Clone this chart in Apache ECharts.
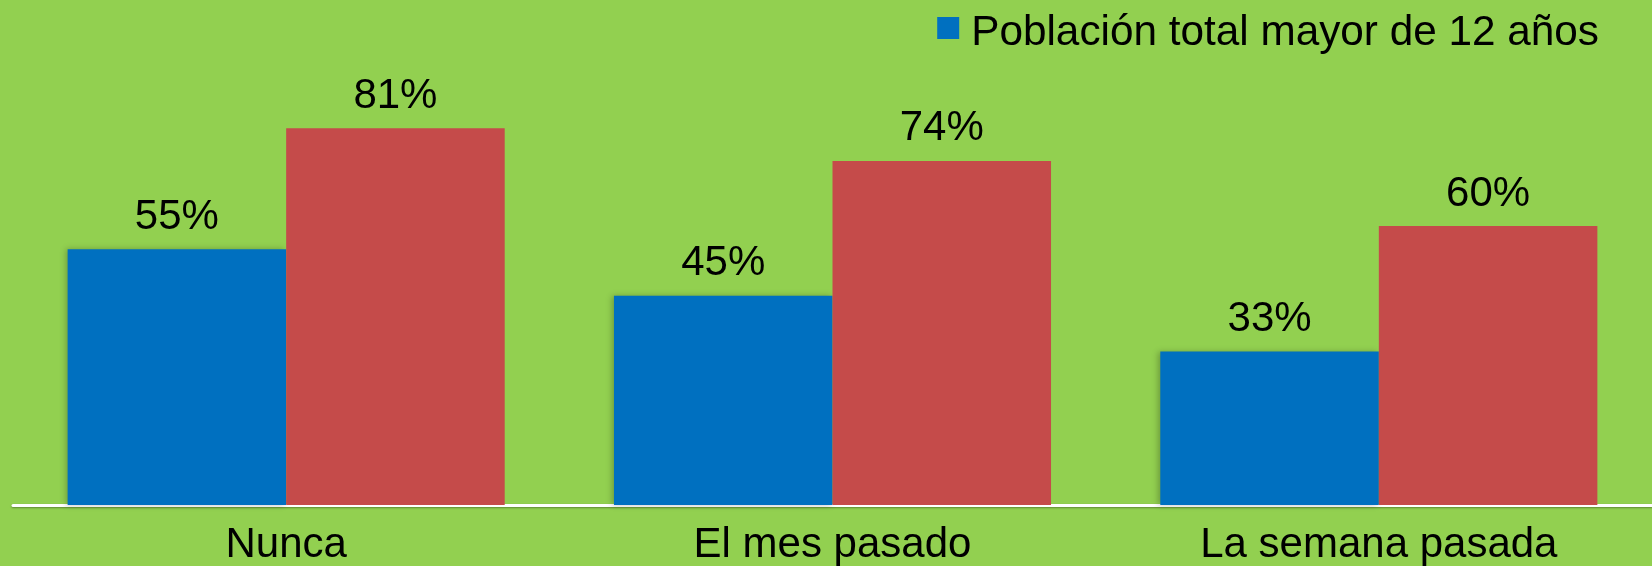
<!DOCTYPE html>
<html>
<head>
<meta charset="utf-8">
<script src="https://cdn.jsdelivr.net/npm/echarts@6/dist/echarts.min.js"></script>
<style>
html,body{margin:0;padding:0;background:#92D050;}
#chart{width:1652px;height:566px;}
</style>
</head>
<body>
<div id="chart"></div>
<script>
const categories = ['Nunca', 'El mes pasado', 'La semana pasada'];
const seriesNames = ['Población total mayor de 12 años', 'Otro grupo'];
const poblacionTotal = [55, 45, 33];
const otroGrupo = [81, 74, 60];

const FONT = '"Liberation Sans", Arial, sans-serif';
const chart = echarts.init(document.getElementById('chart'));
chart.setOption({
  backgroundColor: '#92D050',
  animation: false,
  legend: {
    data: [seriesNames[0]],
    right: 48,
    top: 7,
    itemWidth: 22,
    itemHeight: 22,
    itemGap: 10,
    icon: 'rect',
    formatter: '{t|{name}}',
    textStyle: {
      fontFamily: FONT, fontSize: 42.3, color: '#000',
      rich: { t: { fontFamily: FONT, fontSize: 42.3, color: '#000', padding: [10, 0, 0, 7] } }
    }
  },
  grid: { left: 13, width: 1648, top: 40, bottom: 61, containLabel: false },
  xAxis: {
    type: 'category',
    data: categories,
    axisLine: { show: true, lineStyle: { color: '#FFFFFF', width: 3, shadowColor: 'rgba(0,0,0,0.35)', shadowBlur: 2, shadowOffsetY: 1 } },
    axisTick: { show: false },
    axisLabel: { fontFamily: FONT, fontSize: 42, color: '#000', margin: 19, interval: 0 }
  },
  yAxis: {
    type: 'value', min: 0, max: 100, show: false,
    splitLine: { show: false }
  },
  series: [
    {
      name: seriesNames[0], type: 'bar', data: poblacionTotal,
      barGap: '0%', barCategoryGap: '20%',
      itemStyle: { color: '#0070C0', shadowColor: 'rgba(0,0,0,0.25)', shadowBlur: 6, shadowOffsetX: -2 },
      label: { show: true, position: 'top', distance: 11, formatter: '{c}%', fontFamily: FONT, fontSize: 42, color: '#000' }
    },
    {
      name: seriesNames[1], type: 'bar', data: otroGrupo,
      itemStyle: { color: '#C54B4A' },
      label: { show: true, position: 'top', distance: 11, formatter: '{c}%', fontFamily: FONT, fontSize: 42, color: '#000' }
    }
  ]
});
</script>
</body>
</html>
